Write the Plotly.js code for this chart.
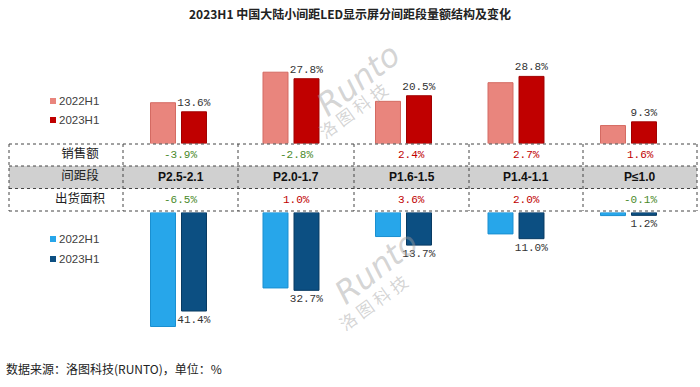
<!DOCTYPE html>
<html>
<head>
<meta charset="utf-8">
<script src="https://cdn.plot.ly/plotly-3.0.1.min.js"></script>
<style>html,body{margin:0;padding:0;background:#fff}#chart{width:700px;height:387px}</style>
</head>
<body>
<div id="chart"></div>
<script>
// ---- data ----
const categories = ["P2.5-2.1", "P2.0-1.7", "P1.6-1.5", "P1.4-1.1", "P≤1.0"];
const seriesNames = ["2022H1", "2023H1"];
const sales2022 = [17.5, 30.6, 18.1, 26.1, 7.7];
const sales2023 = [13.6, 27.8, 20.5, 28.8, 9.3];
const area2022 = [47.9, 31.7, 10.1, 9.0, 1.3];
const area2023 = [41.4, 32.7, 13.7, 11.0, 1.2];
const salesChange = [-3.9, -2.8, 2.4, 2.7, 1.6];
const areaChange = [-6.5, 1.0, 3.6, 2.0, -0.1];
const rowLabels = ["销售额", "间距段", "出货面积"];

// ---- layout helpers ----
const W = 700, H = 387;
const px = x => x / W;
const py = y => 1 - y / H;
const idx = categories.map((c, i) => i);
const colRed1 = "#E9857D", colRed2 = "#C00000", colBlue1 = "#27A6EA", colBlue2 = "#0C4F82";
const labelFont = {family: "Liberation Mono, DejaVu Sans Mono, monospace", size: 11, color: "#333"};
const cjk = "Noto Sans CJK SC, sans-serif";

// table geometry (pixels)
const tL = 9, tR = 697, tT = 144, r1 = 166, r2 = 188.5, tB = 211;
const vLines = [123, 238, 354, 469, 583];
const rowY = [(tT + r1) / 2, (r1 + r2) / 2, (r2 + tB) / 2];
const rowX = [80, 80, 80];

const traces = [
  {type: "bar", name: seriesNames[0], x: idx, y: sales2022, xaxis: "x", yaxis: "y",
   marker: {color: colRed1, line: {color: "#D46A62", width: 1}}, showlegend: false},
  {type: "bar", name: seriesNames[1], x: idx, y: sales2023, xaxis: "x", yaxis: "y",
   marker: {color: colRed2, line: {color: "#A00000", width: 1}},
   text: sales2023.map(v => v.toFixed(1) + "%"), textposition: "outside", textfont: labelFont,
   constraintext: "none", cliponaxis: false, showlegend: false},
  {type: "bar", name: seriesNames[0], x: idx, y: area2022, xaxis: "x2", yaxis: "y2",
   marker: {color: colBlue1, line: {color: "#1A8FD0", width: 1}}, showlegend: false},
  {type: "bar", name: seriesNames[1], x: idx, y: area2023, xaxis: "x2", yaxis: "y2",
   marker: {color: colBlue2, line: {color: "#083A62", width: 1}},
   text: area2023.map(v => v.toFixed(1) + "%"), textposition: "outside", textfont: labelFont,
   constraintext: "none", cliponaxis: false, showlegend: false},
  {type: "scatter", mode: "text", x: rowX, y: rowY, text: rowLabels,
   textposition: "middle center", textfont: {family: cjk, size: 12.5, color: "#222"},
   xaxis: "x3", yaxis: "y3", cliponaxis: false, showlegend: false, hoverinfo: "skip"}
];

const xdom = [px(122.25), px(684.75)];
const hiddenX = {domain: xdom, range: [-0.5, 4.5], visible: false, fixedrange: true};

const shapes = [];
const annotations = [];
function ann(o) {
  annotations.push(Object.assign({xref: "paper", yref: "paper", showarrow: false, xanchor: "center", yanchor: "middle"}, o));
}

ann({x: 0.5, y: py(14), text: "<b>2023H1 中国大陆小间距LED显示屏分间距段量额结构及变化</b>",
  font: {family: cjk, size: 12, color: "#222"}});
ann({x: px(4), y: py(368), text: "数据来源：洛图科技(RUNTO)，单位：%", xanchor: "left",
  font: {family: cjk, size: 12, color: "#222"}});

shapes.push({type: "rect", xref: "paper", yref: "paper", x0: px(tL), x1: px(tR), y0: py(r2), y1: py(r1),
  fillcolor: "#D0D0D0", line: {width: 0}, layer: "below"});
const dot = {color: "#444", width: 1, dash: "dot"};
[tT, r1, r2, tB].forEach(y => shapes.push({type: "line", xref: "paper", yref: "paper",
  x0: px(tL), x1: px(tR), y0: py(y), y1: py(y), line: dot}));
[tL, ...vLines, tR].forEach(x => shapes.push({type: "line", xref: "paper", yref: "paper",
  x0: px(x), x1: px(x), y0: py(tT), y1: py(tB), line: dot}));

const colEdges = [...vLines, tR];
const colC = categories.map((c, i) => (colEdges[i] + colEdges[i + 1]) / 2);
const fmtChg = v => v.toFixed(1) + "%";
categories.forEach((c, i) => {
  ann({x: px(colC[i]), y: py(rowY[0]), text: fmtChg(salesChange[i]),
    font: {family: labelFont.family, size: 11, color: salesChange[i] < 0 ? "#4A8A2A" : "#C00000"}});
  ann({x: px(colC[i]), y: py(rowY[1]), text: "<b>" + c + "</b>",
    font: {family: "Liberation Sans, Arial, sans-serif", size: 12, color: "#111"}});
  ann({x: px(colC[i]), y: py(rowY[2]), text: fmtChg(areaChange[i]),
    font: {family: labelFont.family, size: 11, color: areaChange[i] < 0 ? "#4A8A2A" : "#C00000"}});
});

// legends (manual)
function legendItem(y, color, name) {
  shapes.push({type: "rect", xref: "paper", yref: "paper", x0: px(50), x1: px(56), y0: py(y + 3), y1: py(y - 3),
    fillcolor: color, line: {width: 0}});
  ann({x: px(57), y: py(y), text: name, xanchor: "left",
    font: {family: "Liberation Sans, Arial, sans-serif", size: 11.5, color: "#404040"}});
}
legendItem(101, colRed1, seriesNames[0]);
legendItem(120, colRed2, seriesNames[1]);
legendItem(239, colBlue1, seriesNames[0]);
legendItem(259, colBlue2, seriesNames[1]);

// watermarks
const wm = "rgba(160,160,160,0.45)";
[[358, 80, 352, 110], [376, 268, 372, 302]].forEach(([x1, y1, x2, y2]) => {
  ann({x: px(x1), y: py(y1), text: "<i>Runto</i>", textangle: -38,
    font: {family: "DejaVu Sans, sans-serif", size: 32, color: wm}});
  ann({x: px(x2), y: py(y2), text: "洛 图 科 技", textangle: -36,
    font: {family: cjk, size: 17, color: wm}});
});

const layout = {
  width: W, height: H,
  margin: {l: 0, r: 0, t: 0, b: 0},
  paper_bgcolor: "#fff", plot_bgcolor: "rgba(0,0,0,0)",
  barmode: "group", bargap: 0.449, bargroupgap: 0.194,
  xaxis: hiddenX,
  xaxis2: Object.assign({}, hiddenX, {anchor: "y2"}),
  yaxis: {domain: [py(143.5), py(50.3)], range: [0, 40], visible: false, fixedrange: true},
  yaxis2: {domain: [py(331.5), py(212.5)], range: [50, 0], visible: false, fixedrange: true, anchor: "x2"},
  xaxis3: {domain: [0, 1], range: [0, W], visible: false, fixedrange: true, anchor: "y3"},
  yaxis3: {domain: [0, 1], range: [H, 0], visible: false, fixedrange: true, anchor: "x3"},
  shapes: shapes,
  annotations: annotations,
  showlegend: false
};

Plotly.newPlot("chart", traces, layout, {staticPlot: true, displayModeBar: false});
</script>
</body>
</html>
